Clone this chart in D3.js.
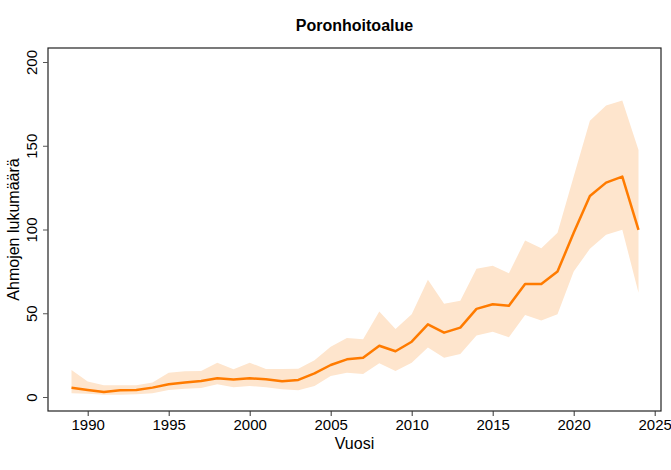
<!DOCTYPE html>
<html>
<head>
<meta charset="utf-8">
<script src="https://cdn.jsdelivr.net/npm/d3@7"></script>
<style>
  body { margin: 0; background: #fff; }
  svg { font-family: "Liberation Sans", Arial, sans-serif; }
</style>
</head>
<body>
<svg id="chart_svg" width="671" height="470"></svg>
<script>
const years = d3.range(1989, 2025);

// mean line
const mean = [5.5, 4.2, 3, 4, 4.2, 5.6, 7.6, 8.6, 9.6, 11.2, 10.4, 11.2, 10.6, 9.4, 10.2, 14.1,
  19.1, 22.5, 23.4, 30.6, 27.3, 33, 43.4, 38.4, 41.4, 52.6, 55.4, 54.5, 67.5, 67.5, 74.9,
  98, 120, 128, 131.6, 99.8];

// band upper / lower
const upper = [16.1, 9.2, 7, 7, 7, 8.6, 14.5, 15.3, 15.5, 20.5, 16.5, 20.5, 16.7, 16.7, 16.9, 22,
  30, 35.2, 34.5, 51, 40.6, 49.4, 70, 55.6, 57.5, 76.5, 78.3, 73.9, 93.4, 88.8, 98,
  131.6, 165, 174, 177, 147.5];
const lower = [2.2, 2, 1.4, 1.4, 1.6, 2.2, 4.2, 5, 5.4, 7.6, 5.8, 6.6, 5.8, 4.6, 4, 6.6,
  12.5, 14.5, 13.7, 20.1, 15.5, 20.5, 29.5, 23.5, 25.7, 36.7, 39, 35.7, 49, 45.6, 49.4,
  74.9, 88.5, 96.8, 99.8, 62.3];

const xTicks = [1990, 1995, 2000, 2005, 2010, 2015, 2020, 2025];
const yTicks = [0, 50, 100, 150, 200];

const title = "Poronhoitoalue";
const xTitle = "Vuosi";
const yTitle = "Ahmojen lukumäärä";

const data = years.map((y, i) => ({ year: y, mean: mean[i], lo: lower[i], hi: upper[i] }));

const svg = d3.select("#chart_svg");
const box = { left: 48, right: 661, top: 48, bottom: 411 };

const xScale = d3.scaleLinear().domain([1990, 2025]).range([87.7, 654.7]);
const yScale = d3.scaleLinear().domain([0, 200]).range([397, 62]);

// band
const area = d3.area()
  .x(d => xScale(d.year))
  .y0(d => yScale(d.lo))
  .y1(d => yScale(d.hi));

svg.append("path")
  .datum(data)
  .attr("fill", "#fee5cd")
  .attr("d", area);

// line
const line = d3.line()
  .x(d => xScale(d.year))
  .y(d => yScale(d.mean));

svg.append("path")
  .datum(data)
  .attr("fill", "none")
  .attr("stroke", "#ff7b00")
  .attr("stroke-width", 2.5)
  .attr("stroke-linejoin", "round")
  .attr("d", line);

// box
svg.append("rect")
  .attr("x", box.left)
  .attr("y", box.top)
  .attr("width", box.right - box.left)
  .attr("height", box.bottom - box.top)
  .attr("fill", "none")
  .attr("stroke", "#222")
  .attr("stroke-width", 1.2);

// x axis
const x_axis = d3.axisBottom(xScale).tickValues(xTicks).tickFormat(d3.format("d"))
  .tickSize(5).tickPadding(3);
const gx = svg.append("g")
  .attr("transform", "translate(0," + box.bottom + ")")
  .call(x_axis);
gx.select(".domain").remove();
gx.selectAll("line").attr("stroke", "#333");
gx.selectAll("text").attr("font-size", 15).attr("fill", "#000")
  .attr("font-family", "Liberation Sans, Arial, sans-serif");

// y axis
const y_axis = d3.axisLeft(yScale).tickValues(yTicks).tickSize(5).tickPadding(0);
const gy = svg.append("g")
  .attr("transform", "translate(" + box.left + ",0)")
  .call(y_axis);
gy.select(".domain").remove();
gy.selectAll("line").attr("stroke", "#555");
gy.selectAll("text")
  .attr("font-size", 15).attr("fill", "#000")
  .attr("font-family", "Liberation Sans, Arial, sans-serif")
  .attr("text-anchor", "middle")
  .attr("dy", 0)
  .attr("x", 0)
  .attr("transform", "translate(-11,0) rotate(-90)");

// title
svg.append("text")
  .attr("x", (box.left + box.right) / 2)
  .attr("y", 31)
  .attr("text-anchor", "middle")
  .attr("font-size", 16)
  .attr("font-weight", "bold")
  .text(title);

// x label
svg.append("text")
  .attr("x", (box.left + box.right) / 2)
  .attr("y", 449)
  .attr("text-anchor", "middle")
  .attr("font-size", 16)
  .text(xTitle);

// y label
svg.append("text")
  .attr("transform", "translate(19," + ((box.top + box.bottom) / 2) + ") rotate(-90)")
  .attr("text-anchor", "middle")
  .attr("font-size", 16)
  .text(yTitle);
</script>
</body>
</html>
